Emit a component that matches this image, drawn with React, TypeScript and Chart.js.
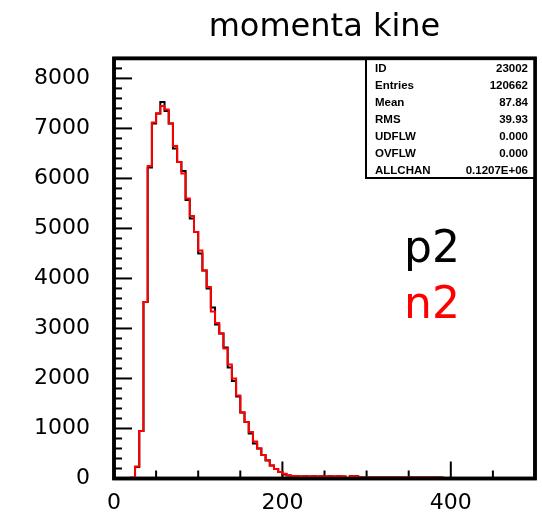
import React, { useEffect, useRef } from "react";
import { Chart, registerables } from "chart.js";

Chart.register(...registerables);

const BIN_WIDTH = 5;
const FIRST_BIN = 20;
const X_MIN = 0;
const X_MAX = 500;
const Y_MIN = 0;
const Y_MAX = 8400;
const X_TICKS = [0, 200, 400];
const Y_TICKS = [0, 1000, 2000, 3000, 4000, 5000, 6000, 7000, 8000];
const X_MINOR_STEP = 50;
const Y_MINOR_STEP = 200;

// p2 (black) bin contents, bins of width 5 starting at 20
const p2Counts = [
  15, 230, 950, 3530, 6220, 7100, 7300, 7530, 7350, 7100,
  6600, 6330, 6150, 5570, 5200, 4930, 4500, 4160, 3800, 3420,
  3080, 2900, 2620, 2220, 1950, 1640, 1320, 1130, 900, 700,
  600, 470, 360, 260, 190, 130, 80, 60, 50, 45,
  40, 45, 40, 45, 40, 45, 40, 45, 40, 45,
  40, 5, 45, 45, 20, 20, 20, 20, 20, 20,
  20, 20, 20, 20, 20, 20, 20, 20, 20, 20,
  20, 20, 20, 20,
];
// n2 (red) bin contents, bins of width 5 starting at 20
const n2Counts = [
  15, 240, 950, 3530, 6250, 7120, 7300, 7450, 7380, 7100,
  6650, 6330, 6100, 5600, 5250, 4930, 4560, 4160, 3830, 3340,
  3110, 2900, 2600, 2280, 2000, 1660, 1320, 1130, 930, 740,
  600, 470, 370, 260, 190, 130, 95, 65, 50, 45,
  40, 45, 40, 45, 40, 45, 40, 45, 40, 45,
  40, 5, 45, 45, 20, 20, 20, 20, 20, 20,
  20, 20, 20, 20, 20, 20, 20, 20, 20, 20,
  20, 20, 20, 20,
];

const TITLE = "momenta kine";
const SERIES_LABELS = ["p2", "n2"];
const SERIES_COLORS = ["#000000", "#ff0000"];
const STATS_LABELS = ["ID", "Entries", "Mean", "RMS", "UDFLW", "OVFLW", "ALLCHAN"];
const STATS_VALUES = ["23002", "120662", "87.84", "39.93", "0.000", "0.000", "0.1207E+06"];

// step outline: each bin's value starts at its low edge
function histPoints(counts: number[]) {
  const pts: { x: number; y: number }[] = [{ x: FIRST_BIN, y: 0 }];
  counts.forEach((c, i) => pts.push({ x: FIRST_BIN + i * BIN_WIDTH, y: c }));
  pts.push({ x: FIRST_BIN + counts.length * BIN_WIDTH, y: 0 });
  return pts;
}

const pawPlugin = {
  id: "pawFrame",
  beforeDatasetsDraw(chart: any) {
    const { ctx, chartArea: a, scales } = chart;
    const xs = scales.x;
    const ys = scales.y;
    ctx.save();
    ctx.strokeStyle = "#000";
    ctx.lineWidth = 2;
    for (let v = Y_MIN + Y_MINOR_STEP; v < Y_MAX; v += Y_MINOR_STEP) {
      const py = ys.getPixelForValue(v);
      const len = Y_TICKS.includes(v) ? 18 : 8;
      ctx.beginPath();
      ctx.moveTo(a.left, py);
      ctx.lineTo(a.left + len, py);
      ctx.stroke();
    }
    for (let v = X_MIN + X_MINOR_STEP; v < X_MAX; v += X_MINOR_STEP) {
      const px = xs.getPixelForValue(v);
      const len = X_TICKS.includes(v) ? 17 : 8;
      ctx.beginPath();
      ctx.moveTo(px, a.bottom);
      ctx.lineTo(px, a.bottom - len);
      ctx.stroke();
    }
    ctx.lineWidth = 3.5;
    ctx.strokeRect(a.left, a.top, a.right - a.left, a.bottom - a.top);
    ctx.restore();
  },
  afterDraw(chart: any) {
    const { ctx, chartArea: a } = chart;
    ctx.save();
    const bx = 366;
    const by = a.top;
    const bw = a.right - bx;
    const bh = 178 - a.top;
    ctx.fillStyle = "#fff";
    ctx.fillRect(bx, by, bw, bh);
    ctx.strokeStyle = "#000";
    ctx.lineWidth = 2;
    ctx.strokeRect(bx, by, bw, bh);
    ctx.lineWidth = 3.5;
    ctx.strokeRect(a.left, a.top, a.right - a.left, a.bottom - a.top);
    ctx.fillStyle = "#000";
    ctx.font = 'bold 11.5px "Liberation Sans", Arial, sans-serif';
    ctx.textBaseline = "middle";
    STATS_LABELS.forEach((lab, i) => {
      const y = by + 10 + i * 17;
      ctx.textAlign = "left";
      ctx.fillText(lab, bx + 9, y);
      ctx.textAlign = "right";
      ctx.fillText(STATS_VALUES[i], a.right - 7, y);
    });
    ctx.font = '44px "DejaVu Sans", sans-serif';
    ctx.textAlign = "left";
    ctx.textBaseline = "alphabetic";
    ctx.fillStyle = SERIES_COLORS[0];
    ctx.fillText(SERIES_LABELS[0], 404, 262);
    ctx.fillStyle = SERIES_COLORS[1];
    ctx.fillText(SERIES_LABELS[1], 404, 318);
    ctx.restore();
  },
};

export default function App() {
  const canvasRef = useRef<HTMLCanvasElement | null>(null);

  useEffect(() => {
    document.body.style.margin = "0";
    const canvas = canvasRef.current;
    if (!canvas) return;
    const chart = new Chart(canvas, {
      type: "line",
      data: {
        datasets: [
          {
            label: SERIES_LABELS[0],
            data: histPoints(p2Counts),
            borderColor: SERIES_COLORS[0],
            borderWidth: 2,
            pointRadius: 0,
            stepped: "before",
            fill: false,
            order: 2,
          },
          {
            label: SERIES_LABELS[1],
            data: histPoints(n2Counts),
            borderColor: SERIES_COLORS[1],
            borderWidth: 2,
            pointRadius: 0,
            stepped: "before",
            fill: false,
            order: 1,
          },
        ],
      },
      options: {
        animation: false,
        responsive: false,
        layout: { padding: { left: 0, right: 7, top: 0, bottom: 0 } },
        plugins: {
          legend: { display: false },
          tooltip: { enabled: false },
          title: {
            display: true,
            text: TITLE,
            fullSize: false,
            color: "#000",
            font: { family: '"DejaVu Sans", sans-serif', size: 32, weight: "normal" },
            padding: { top: 8, bottom: 12 },
          },
        },
        scales: {
          x: {
            type: "linear",
            min: X_MIN,
            max: X_MAX,
            grid: { display: false, drawTicks: false },
            border: { display: false },
            afterBuildTicks: (s: any) => {
              s.ticks = X_TICKS.map((v) => ({ value: v }));
            },
            ticks: {
              color: "#000",
              padding: 12,
              maxRotation: 0,
              autoSkip: false,
              font: { family: '"DejaVu Sans", sans-serif', size: 22 },
              callback: (v: any) => String(v),
            },
            afterFit: (s: any) => {
              s.height = 33.5;
              s.paddingLeft = 0;
              s.paddingRight = 0;
            },
          },
          y: {
            type: "linear",
            min: Y_MIN,
            max: Y_MAX,
            grid: { display: false, drawTicks: false },
            border: { display: false },
            afterBuildTicks: (s: any) => {
              s.ticks = Y_TICKS.map((v) => ({ value: v }));
            },
            ticks: {
              color: "#000",
              padding: 24,
              autoSkip: false,
              font: { family: '"DejaVu Sans", sans-serif', size: 22 },
              callback: (v: any) => String(v),
            },
            afterFit: (s: any) => {
              s.width = 114;
              s.paddingTop = 0;
              s.paddingBottom = 0;
            },
          },
        },
      },
      plugins: [pawPlugin],
    });
    return () => chart.destroy();
  }, []);

  return (
    <div style={{ width: 542, height: 512, background: "#fff" }}>
      <canvas ref={canvasRef} width={542} height={512} />
    </div>
  );
}
